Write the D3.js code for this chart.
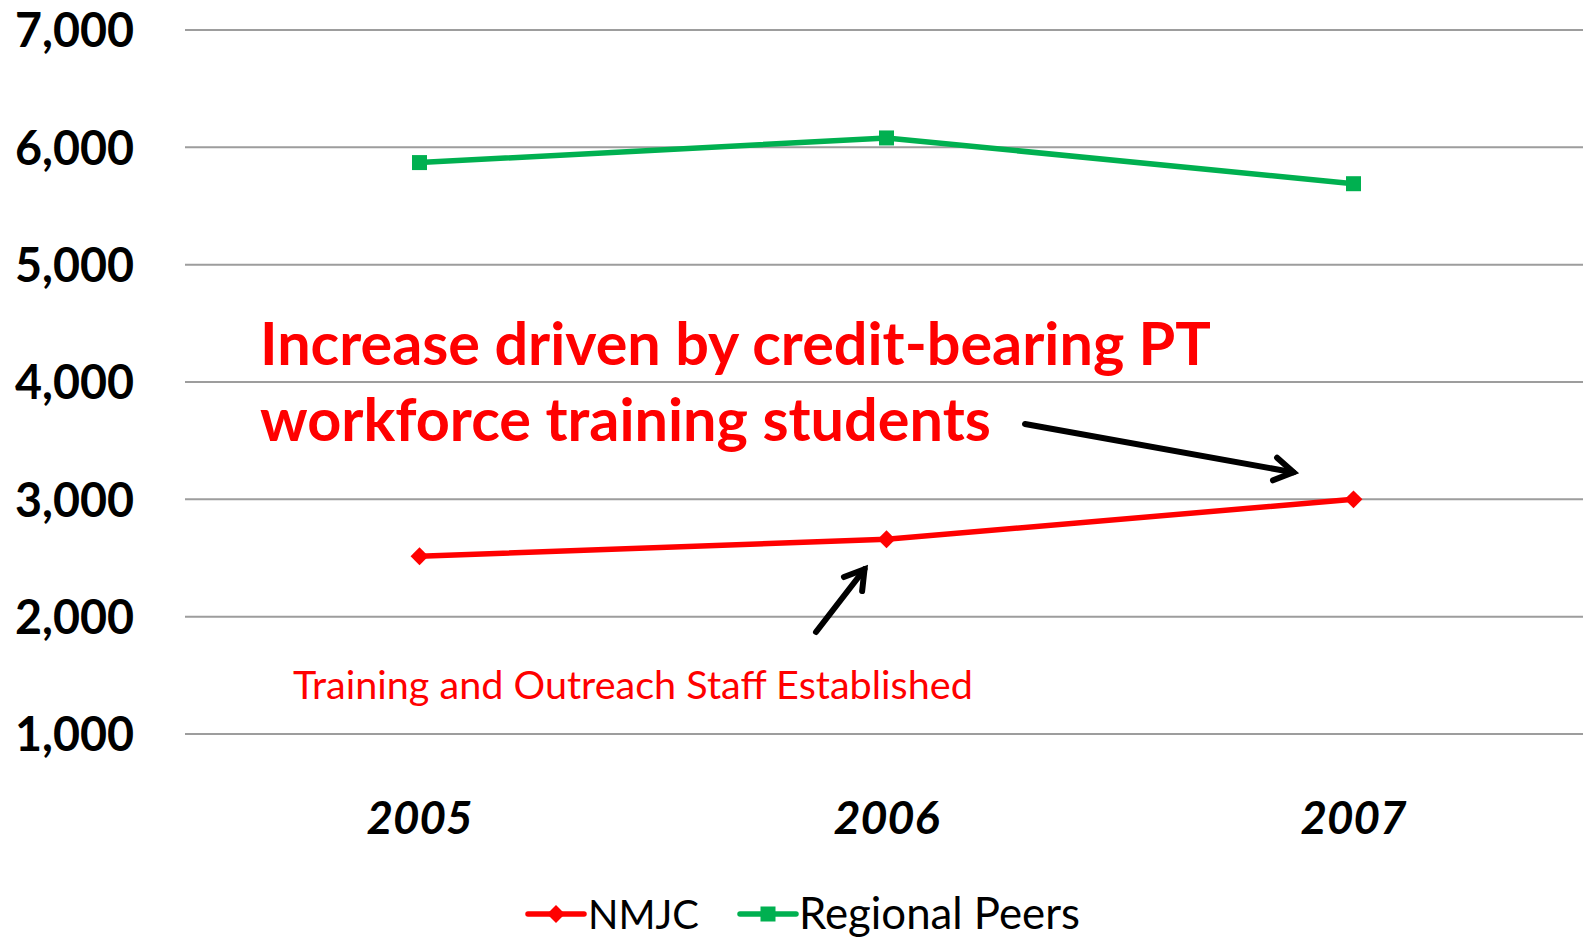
<!DOCTYPE html>
<html>
<head>
<meta charset="utf-8">
<script src="https://cdn.jsdelivr.net/npm/d3@7"></script>
<style>
  html, body { margin: 0; padding: 0; background: #fff; overflow: hidden; }
  svg { display: block; font-family: Lato, "Open Sans", sans-serif; }
</style>
</head>
<body>
<div id="chart"></div>
<script>
// Data
const years = ["2005", "2006", "2007"];
const nmjc = [2515, 2660, 3000];
const regionalPeers = [5870, 6080, 5690];
const yTicks = [1000, 2000, 3000, 4000, 5000, 6000, 7000];
const seriesNames = ["NMJC", "Regional Peers"];

const W = 1583, H = 937;
const red = "#ff0000", green = "#00b050";

const svg = d3.select("#chart").append("svg")
    .attr("width", W)
    .attr("height", H);

// Scales
const x = d3.scalePoint()
    .domain(years)
    .range([186, 1587])
    .padding(0.5);

const y = d3.scaleLinear()
    .domain([1000, 7000])
    .range([734, 30]);

// fit text to a given width by adjusting font size
function fitWidth(sel, target) {
    const fs = parseFloat(sel.attr("font-size"));
    const w = sel.node().getComputedTextLength();
    sel.attr("font-size", fs * target / w);
}

// Gridlines
svg.append("g")
    .selectAll("line")
    .data(yTicks)
    .join("line")
    .attr("x1", 185)
    .attr("x2", W)
    .attr("y1", d => y(d))
    .attr("y2", d => y(d))
    .attr("stroke", "#9d9d9d")
    .attr("stroke-width", 2);

// Y axis labels
svg.append("g")
    .selectAll("text")
    .data(yTicks)
    .join("text")
    .attr("x", 134)
    .attr("y", d => y(d))
    .attr("dy", "0.36em")
    .attr("text-anchor", "end")
    .attr("font-weight", "bold")
    .attr("font-size", 48)
    .attr("fill", "#000")
    .attr("textLength", 119)
    .attr("lengthAdjust", "spacingAndGlyphs")
    .text(d => d3.format(",")(d));

// X axis labels
svg.append("g")
    .selectAll("text")
    .data(years)
    .join("text")
    .attr("x", d => x(d))
    .attr("y", 834)
    .attr("text-anchor", "middle")
    .attr("font-weight", "bold")
    .attr("font-style", "italic")
    .attr("font-size", 46)
    .attr("fill", "#000")
    .text(d => d)
    .each(function() { fitWidth(d3.select(this), 106); });

// Lines
const line = d3.line()
    .x((d, i) => x(years[i]))
    .y(d => y(d));

svg.append("path")
    .datum(regionalPeers)
    .attr("d", line)
    .attr("fill", "none")
    .attr("stroke", green)
    .attr("stroke-width", 5.5)
    .attr("stroke-linejoin", "round");

svg.append("path")
    .datum(nmjc)
    .attr("d", line)
    .attr("fill", "none")
    .attr("stroke", red)
    .attr("stroke-width", 5.5)
    .attr("stroke-linejoin", "round");

// Markers
svg.append("g")
    .selectAll("rect")
    .data(regionalPeers)
    .join("rect")
    .attr("x", (d, i) => x(years[i]) - 7.5)
    .attr("y", d => y(d) - 7.5)
    .attr("width", 15)
    .attr("height", 15)
    .attr("fill", green);

const diamond = d3.symbol().type(d3.symbolSquare).size(160);
svg.append("g")
    .selectAll("path")
    .data(nmjc)
    .join("path")
    .attr("d", diamond)
    .attr("transform", (d, i) => `translate(${x(years[i])},${y(d)}) rotate(45)`)
    .attr("fill", red);

// Annotations
const note1 = svg.append("g")
    .attr("font-weight", "bold")
    .attr("fill", red);
note1.append("text")
    .attr("x", 260)
    .attr("y", 365)
    .attr("font-size", 56)
    .text("Increase driven by credit-bearing PT")
    .call(s => fitWidth(s, 951));
note1.append("text")
    .attr("x", 260)
    .attr("y", 441)
    .attr("font-size", 56)
    .text("workforce training students")
    .call(s => fitWidth(s, 731));

svg.append("text")
    .attr("x", 293)
    .attr("y", 699)
    .attr("font-size", 38)
    .attr("fill", red)
    .text("Training and Outreach Staff Established")
    .call(s => fitWidth(s, 680));

// Arrows (open heads)
function arrow(x1, y1, x2, y2) {
    const g = svg.append("g")
        .attr("stroke", "#000")
        .attr("stroke-width", 6)
        .attr("stroke-linecap", "round")
        .attr("fill", "none");
    g.append("line")
        .attr("x1", x1).attr("y1", y1)
        .attr("x2", x2).attr("y2", y2);
    const a = Math.atan2(y2 - y1, x2 - x1);
    const len = 22, spread = 0.55;
    g.append("path")
        .attr("stroke-linejoin", "miter")
        .attr("d", `M${x2 - len * Math.cos(a - spread)},${y2 - len * Math.sin(a - spread)}
            L${x2},${y2}
            L${x2 - len * Math.cos(a + spread)},${y2 - len * Math.sin(a + spread)}`);
}
arrow(1025, 424, x("2007") - 60, y(3000) - 27);
arrow(816, 632, x("2006") - 22, y(2660) + 30);

// Legend
const legend = svg.append("g");
const legendItems = [
    { name: seriesNames[0], color: red, x0: 528, tx: 588, shape: "diamond" },
    { name: seriesNames[1], color: green, x0: 740, tx: 799, shape: "square" }
];
legendItems.forEach(item => {
    legend.append("line")
        .attr("x1", item.x0)
        .attr("x2", item.x0 + 56)
        .attr("y1", 914)
        .attr("y2", 914)
        .attr("stroke", item.color)
        .attr("stroke-width", 5.5)
        .attr("stroke-linecap", "round");
    if (item.shape === "diamond") {
        legend.append("path")
            .attr("d", diamond)
            .attr("transform", `translate(${item.x0 + 28},914) rotate(45)`)
            .attr("fill", item.color);
    } else {
        legend.append("rect")
            .attr("x", item.x0 + 20.5)
            .attr("y", 906.5)
            .attr("width", 15)
            .attr("height", 15)
            .attr("fill", item.color);
    }
    legend.append("text")
        .attr("x", item.tx)
        .attr("y", 929)
        .attr("font-size", 44)
        .attr("fill", "#000")
        .text(item.name);
});
legend.selectAll("text").each(function(d, i) {
    fitWidth(d3.select(this), i === 0 ? 111 : 281);
});
</script>
</body>
</html>
